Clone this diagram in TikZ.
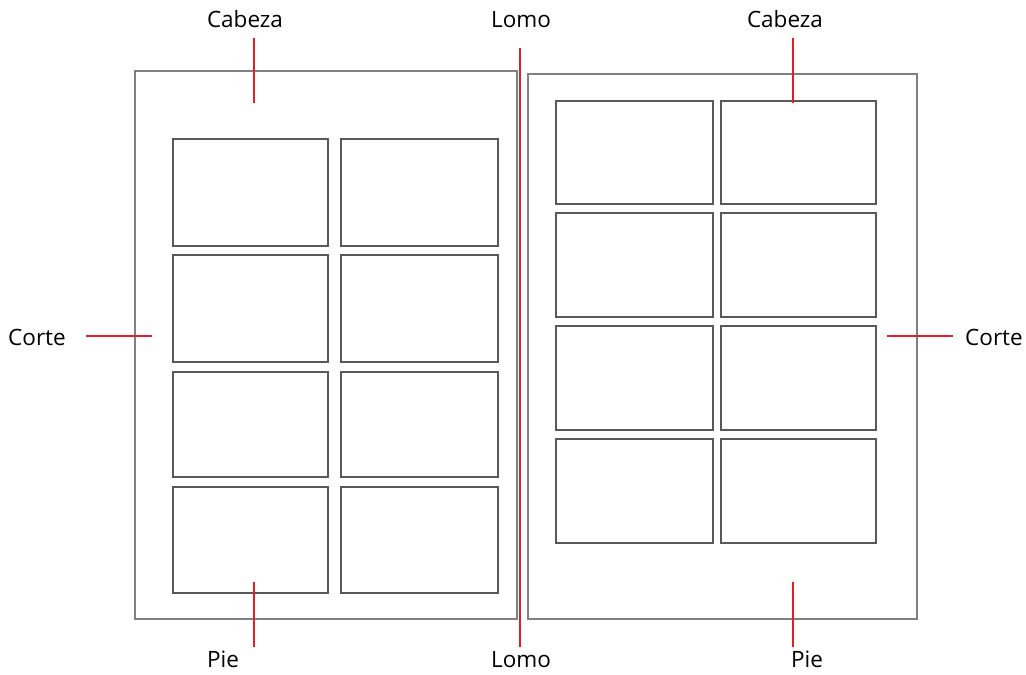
\documentclass[tikz,border=0pt]{standalone}
\usepackage{fontspec}
\setmainfont{Open Sans}
\usepackage{xcolor}
\usetikzlibrary{positioning,calc}
\definecolor{lomored}{RGB}{228,30,38}

\begin{document}
\begin{tikzpicture}[x=1pt,y=-1pt,
  lbl/.style={anchor=base,inner sep=0pt,font=\fontsize{22.5}{26}\selectfont},
  redline/.style={lomored,line width=2pt},
  page/.style={draw=black!50,line width=1.6pt},
  cell/.style={draw=black!65,line width=1.3pt}]
\useasboundingbox (0,0) rectangle (1026,675);
% pages
\draw[page] (135,71) rectangle (517,619);
\draw[page] (528,74) rectangle (917,619);
% left grid
\foreach \xa/\xb in {173/328,341/498} {\foreach \ya/\yb in {139/246,255/362,372/477,487/593} {\draw[cell] (\xa,\ya) rectangle (\xb,\yb);}}
% right grid
\foreach \xa/\xb in {556/713,721/876} {\foreach \ya/\yb in {101/204,213/317,326/430,439/543} {\draw[cell] (\xa,\ya) rectangle (\xb,\yb);}}
% labels
\node[lbl] (cabL) at (245,27) {Cabeza};
\node[lbl] (lomoT) at (521,27) {Lomo};
\node[lbl] (cabR) at (785,27) {Cabeza};
\node[lbl] (corL) at (37,345) {Corte};
\node[lbl] (corR) at (994,345) {Corte};
\node[lbl] (pieL) at (223,667) {Pie};
\node[lbl] (lomoB) at (521,667) {Lomo};
\node[lbl] (pieR) at (807,667) {Pie};
% red markers
\coordinate (cabL1) at (254,38); \coordinate (cabL2) at (254,103);
\coordinate (cabR1) at (793,38); \coordinate (cabR2) at (793,103);
\coordinate (lomo1) at (520,48); \coordinate (lomo2) at (520,647);
\coordinate (corL1) at (86,336); \coordinate (corL2) at (152,336);
\coordinate (corR1) at (887,336); \coordinate (corR2) at (953,336);
\coordinate (pieL1) at (254,582); \coordinate (pieL2) at (254,647);
\coordinate (pieR1) at (793,582); \coordinate (pieR2) at (793,647);
\draw[redline] (cabL1)--(cabL2); \draw[redline] (cabR1)--(cabR2);
\draw[redline] (lomo1)--(lomo2);
\draw[redline] (corL1)--(corL2); \draw[redline] (corR1)--(corR2);
\draw[redline] (pieL1)--(pieL2); \draw[redline] (pieR1)--(pieR2);
\end{tikzpicture}
\end{document}
